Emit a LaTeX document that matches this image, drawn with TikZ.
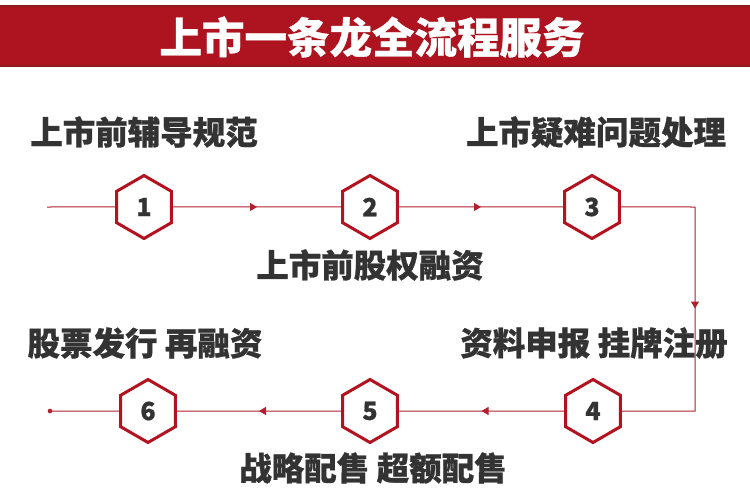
\documentclass[tikz,border=0pt]{standalone}
\usepackage{fontspec}
\setmainfont{Noto Sans CJK SC}[BoldFeatures={FakeBold=0.8}]
\usetikzlibrary{shapes.geometric,arrows.meta,decorations.markings}
\definecolor{bannerred}{HTML}{AD1420}
\definecolor{bannerdark}{HTML}{8E1A22}
\definecolor{hexred}{HTML}{B3121F}
\definecolor{linered}{HTML}{B0202E}
\definecolor{txtgrey}{HTML}{333333}
\tikzset{
  hexnode/.style={regular polygon, regular polygon sides=6, shape border rotate=30,
    minimum size=63pt, inner sep=0pt, draw=hexred, line width=3pt, fill=white,
    text=txtgrey, font=\fontsize{25}{25}\selectfont\bfseries},
  lbl/.style={inner sep=0pt, text=txtgrey, font=\fontsize{32.5}{32.5}\selectfont\bfseries},
  conn/.style={draw=linered, line width=1pt},
  midarrow/.style={postaction={decorate}, decoration={markings,
    mark=at position 0.5 with {\arrow[linered]{Triangle[width=8pt,length=7pt]}}}}
}
\begin{document}
\begin{tikzpicture}[x=1pt,y=-1pt]
\useasboundingbox (0,0) rectangle (750,500);
\fill[white] (0,0) rectangle (750,500);
% banner
\fill[bannerdark] (0,5) rectangle (750,67);
\fill[bannerred] (0,7) rectangle (750,65);
\node[inner sep=0pt, text=white, font=\fontsize{42.5}{42.5}\selectfont\bfseries] (title) at (372,37) {上市一条龙全流程服务};

% hexagons
\node[hexnode] (h1) at (144,207) {1};
\node[hexnode] (h2) at (370,207) {2};
\node[hexnode] (h3) at (592,207) {3};
\node[hexnode] (h4) at (593,411) {4};
\node[hexnode] (h5) at (370,411) {5};
\node[hexnode] (h6) at (148,411) {6};

\coordinate (start) at (47,207);
\coordinate (c1) at (695,207);
\coordinate (c2) at (695,411);
\coordinate (endpt) at (50,411);

% connectors
\draw[conn] (start) -- (h1.west);
\draw[conn, midarrow] (h1.east) -- (h2.west);
\draw[conn, midarrow] (h2.east) -- (h3.west);
\draw[conn, midarrow] (h3.east) -- (c1) -- (c2) -- (h4.east);
\draw[conn, midarrow] (h4.west) -- (h5.east);
\draw[conn, midarrow] (h5.west) -- (h6.east);
\draw[conn] (h6.west) -- (endpt);
\fill[linered] (endpt) circle (2.3pt);

% labels
\node[lbl] (l1) at (144,132) {上市前辅导规范};
\node[lbl] (l3) at (596,132) {上市疑难问题处理};
\node[lbl] (l2) at (370,265) {上市前股权融资};
\node[lbl] (l4) at (594,343) {资料申报 挂牌注册};
\node[lbl] (l6) at (145,343) {股票发行 再融资};
\node[lbl] (l5) at (373,468) {战略配售 超额配售};
\end{tikzpicture}
\end{document}
